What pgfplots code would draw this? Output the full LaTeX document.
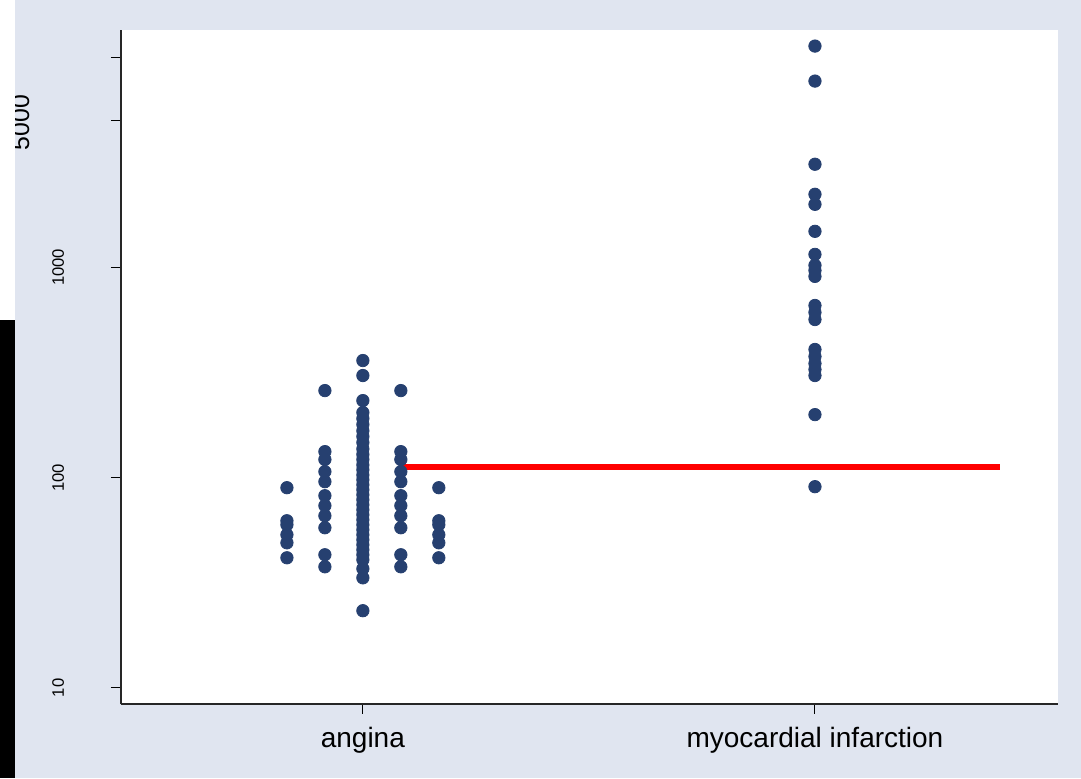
\documentclass[border=0pt]{standalone}
\usepackage{pgfplots}
\pgfplotsset{compat=1.18}
\usepackage{fontspec}
\setmainfont{Liberation Sans}
\definecolor{bgc}{RGB}{224,229,240}
\definecolor{navyd}{RGB}{38,64,112}
\begin{document}
\begin{tikzpicture}[x=0.5pt,y=0.5pt]
\path[use as bounding box] (0,0) rectangle (1081,778);
\fill[bgc] (15,0) rectangle (1081,778);
\node[rotate=90,anchor=base,inner sep=0pt,font=\fontsize{12.4}{14}\selectfont] at (29,655.5) {5000};
\fill[white] (0,458) rectangle (15,778);
\fill[black] (0,0) rectangle (15,458);
\begin{axis}[
  at={(60.5pt,37pt)}, anchor=south west,
  scale only axis, width=468.5pt, height=337pt,
  axis background/.style={fill=white},
  ymode=log, ymin=8.39, ymax=13450,
  xmin=-0.535, xmax=1.5376,
  axis x line*=bottom, axis y line*=left,
  axis line style={-, line width=0.8pt, black!85},
  tick style={line width=0.5pt, black},
  tick align=outside, major tick length=5pt,
  yminorticks=false, xminorticks=false,
  ytick={10,100,1000,5000,10000},
  yticklabels={10,100,1000,,},
  xtick={0,1},
  xticklabels={angina,myocardial infarction},
  yticklabel style={rotate=90, anchor=base, yshift=23.5pt, font=\fontsize{8.3}{10}\selectfont},
  xticklabel style={anchor=base, yshift=-17pt, font=\fontsize{14}{16}\selectfont},
  clip=false,
]
\addplot[only marks, mark=*, mark size=3.1pt, mark options={fill=navyd, draw=navyd}] coordinates {
(0,360.6) (0,306) (0,232.5) (0,204) (0,191) (0,179) (0,167) (0,157) (0,147) (0,137)
(0,129) (0,122) (0,115) (0,109) (0,103) (0,97.8) (0,92.6) (0,87.7) (0,83) (0,78.6)
(0,74.4) (0,70.4) (0,66.7) (0,63.1) (0,59.7) (0,56.5) (0,53.5) (0,50.7) (0,48) (0,45.4)
(0,43) (0,40.7) (0,36.9) (0,33.4) (0,23.3)
(-0.084,259.5) (-0.084,133) (-0.084,122) (-0.084,106.8) (-0.084,95.7) (-0.084,82.1)
(-0.084,73.6) (-0.084,65.9) (-0.084,57.8) (-0.084,43) (-0.084,37.7)
(0.084,259.5) (0.084,133) (0.084,122) (0.084,106.8) (0.084,95.7) (0.084,82.1)
(0.084,73.6) (0.084,65.9) (0.084,57.8) (0.084,43) (0.084,37.7)
(-0.168,89.6) (-0.168,62.4) (-0.168,59.7) (-0.168,53.5) (-0.168,49) (-0.168,41.6)
(0.168,89.6) (0.168,62.4) (0.168,59.7) (0.168,53.5) (0.168,49) (0.168,41.6)
(1,11280) (1,7690) (1,3093) (1,2226) (1,1995) (1,1484) (1,1153) (1,1023) (1,967) (1,906)
(1,659) (1,611) (1,565) (1,407) (1,377) (1,349) (1,327) (1,306) (1,199.5) (1,90.6)
};
\addplot[red, line width=3pt, no marks] coordinates {(0.0819,112.8) (1.409,112.8)};
\end{axis}
\end{tikzpicture}
\end{document}
